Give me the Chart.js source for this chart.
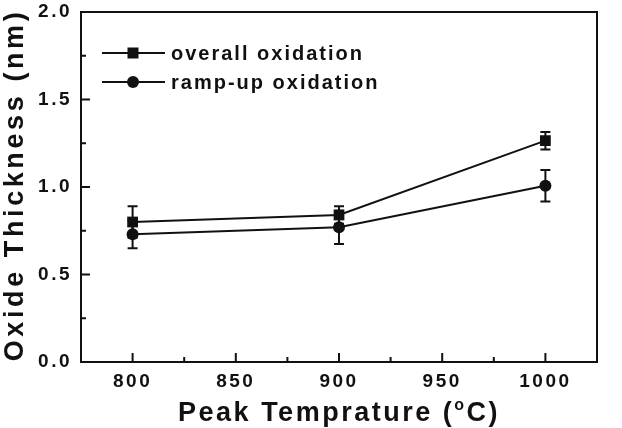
<!DOCTYPE html>
<html>
<head>
<meta charset="utf-8">
<script src="https://cdn.jsdelivr.net/npm/chart.js@4.4.1/dist/chart.umd.min.js"></script>
<style>
html,body{margin:0;padding:0;background:#fff;}
canvas{display:block;}
</style>
</head>
<body>
<canvas id="c" width="622" height="428"></canvas>
<script>
// ---- data ----
const categories = [800, 900, 1000];
const overall = [0.80, 0.84, 1.265];
const overallErr = [0.09, 0.05, 0.05];
const rampUp = [0.73, 0.77, 1.007];
const rampUpErr = [0.08, 0.095, 0.09];
const seriesNames = ['overall oxidation', 'ramp-up oxidation'];
const xTicks = [800, 850, 900, 950, 1000];
const xMinorTicks = [825, 875, 925, 975];
const yTicks = [0.0, 0.5, 1.0, 1.5, 2.0];
const yMinorTicks = [0.25, 0.75, 1.25, 1.75];
const xTitle = ['Peak Temprature (', 'o', 'C)'];
const yTitle = 'Oxide Thickness (nm)';

const INK = '#111';
const FONT = '"Liberation Sans", Arial, sans-serif';

const styling = {
  id: 'styling',
  beforeDraw(chart) {
    chart.ctx.letterSpacing = '2.5px';
  },
  afterDatasetsDraw(chart) {
    const ctx = chart.ctx;
    const ys = chart.scales.y;
    ctx.save();
    ctx.strokeStyle = INK;
    ctx.lineWidth = 2;
    chart.data.datasets.forEach((ds, di) => {
      const meta = chart.getDatasetMeta(di);
      meta.data.forEach((pt, i) => {
        const v = ds.data[i].y, e = ds.errors[i];
        const yt = ys.getPixelForValue(v + e), yb = ys.getPixelForValue(v - e);
        ctx.beginPath();
        ctx.moveTo(pt.x, yt); ctx.lineTo(pt.x, yb);
        ctx.moveTo(pt.x - 5, yt); ctx.lineTo(pt.x + 5, yt);
        ctx.moveTo(pt.x - 5, yb); ctx.lineTo(pt.x + 5, yb);
        ctx.stroke();
      });
    });
    ctx.restore();
  },
  afterDraw(chart) {
    const ctx = chart.ctx;
    const a = chart.chartArea;
    const xs = chart.scales.x, ys = chart.scales.y;
    ctx.save();
    ctx.strokeStyle = INK;
    ctx.fillStyle = INK;
    ctx.lineWidth = 2;
    // box
    ctx.strokeRect(a.left, a.top, a.right - a.left, a.bottom - a.top);
    // ticks (inward)
    ctx.beginPath();
    xTicks.forEach(v => { const x = xs.getPixelForValue(v); ctx.moveTo(x, a.bottom); ctx.lineTo(x, a.bottom - 9); });
    xMinorTicks.forEach(v => { const x = xs.getPixelForValue(v); ctx.moveTo(x, a.bottom); ctx.lineTo(x, a.bottom - 5); });
    yTicks.forEach(v => { const y = ys.getPixelForValue(v); ctx.moveTo(a.left, y); ctx.lineTo(a.left + 9, y); });
    yMinorTicks.forEach(v => { const y = ys.getPixelForValue(v); ctx.moveTo(a.left, y); ctx.lineTo(a.left + 5, y); });
    ctx.stroke();

    // legend
    const rows = [53, 82];
    chart.data.datasets.forEach((ds, di) => {
      const y = rows[di];
      ctx.beginPath();
      ctx.moveTo(102, y); ctx.lineTo(165, y);
      ctx.stroke();
      if (ds.pointStyle === 'rect') {
        ctx.fillRect(133 - 5.5, y - 5.5, 11, 11);
      } else {
        ctx.beginPath(); ctx.arc(133, y, 6, 0, Math.PI * 2); ctx.fill();
      }
      ctx.font = 'bold 20px ' + FONT;
      ctx.letterSpacing = '2px';
      ctx.textAlign = 'left';
      ctx.textBaseline = 'alphabetic';
      ctx.fillText(ds.label, 171, y + 7);
    });

    // x title with superscript
    ctx.letterSpacing = '2.5px';
    ctx.textBaseline = 'alphabetic';
    ctx.textAlign = 'left';
    const big = 'bold 27px ' + FONT, small = 'bold 16px ' + FONT;
    ctx.font = big; const w1 = ctx.measureText(xTitle[0]).width;
    ctx.font = small; const w2 = ctx.measureText(xTitle[1]).width;
    ctx.font = big; const w3 = ctx.measureText(xTitle[2]).width;
    const cx = (a.left + a.right) / 2;
    let x0 = cx - (w1 + w2 + w3) / 2;
    const base = 421;
    ctx.font = big; ctx.fillText(xTitle[0], x0, base);
    ctx.font = small; ctx.fillText(xTitle[1], x0 + w1, base - 11);
    ctx.font = big; ctx.fillText(xTitle[2], x0 + w1 + w2, base);

    // y title
    ctx.save();
    ctx.translate(23, (a.top + a.bottom) / 2 - 2);
    ctx.rotate(-Math.PI / 2);
    ctx.font = 'bold 27px ' + FONT;
    ctx.letterSpacing = '3.6px';
    ctx.textAlign = 'center';
    ctx.textBaseline = 'alphabetic';
    ctx.fillText(yTitle, 0, 0);
    ctx.restore();
    ctx.restore();
  }
};

new Chart(document.getElementById('c'), {
  type: 'line',
  data: {
    datasets: [
      {
        label: seriesNames[0],
        data: categories.map((x, i) => ({ x, y: overall[i] })),
        errors: overallErr,
        borderColor: INK, borderWidth: 2,
        pointStyle: 'rect', pointRadius: 7.6, pointBorderWidth: 0,
        pointBackgroundColor: INK, fill: false, tension: 0
      },
      {
        label: seriesNames[1],
        data: categories.map((x, i) => ({ x, y: rampUp[i] })),
        errors: rampUpErr,
        borderColor: INK, borderWidth: 2,
        pointStyle: 'circle', pointRadius: 6, pointBorderWidth: 0,
        pointBackgroundColor: INK, fill: false, tension: 0
      }
    ]
  },
  options: {
    responsive: false,
    animation: false,
    devicePixelRatio: 1,
    layout: { padding: { left: 0, right: 25, top: 12, bottom: 0 } },
    plugins: { legend: { display: false }, tooltip: { enabled: false } },
    scales: {
      x: {
        type: 'linear', min: 775, max: 1025,
        afterBuildTicks: s => { s.ticks = xTicks.map(v => ({ value: v })); },
        afterFit: s => { s.height = 66; s.paddingLeft = 0; s.paddingRight = 0; },
        grid: { display: false, drawTicks: false },
        border: { display: false },
        ticks: { color: INK, padding: 8, maxRotation: 0, callback: v => String(v), font: { family: FONT, size: 19, weight: 'bold' } }
      },
      y: {
        type: 'linear', min: 0, max: 2,
        afterBuildTicks: s => { s.ticks = yTicks.map(v => ({ value: v })); },
        afterFit: s => { s.width = 81; s.paddingTop = 0; s.paddingBottom = 0; },
        grid: { display: false, drawTicks: false },
        border: { display: false },
        ticks: { color: INK, padding: 9, callback: v => v.toFixed(1), font: { family: FONT, size: 19, weight: 'bold' } }
      }
    }
  },
  plugins: [styling]
});
</script>
</body>
</html>
